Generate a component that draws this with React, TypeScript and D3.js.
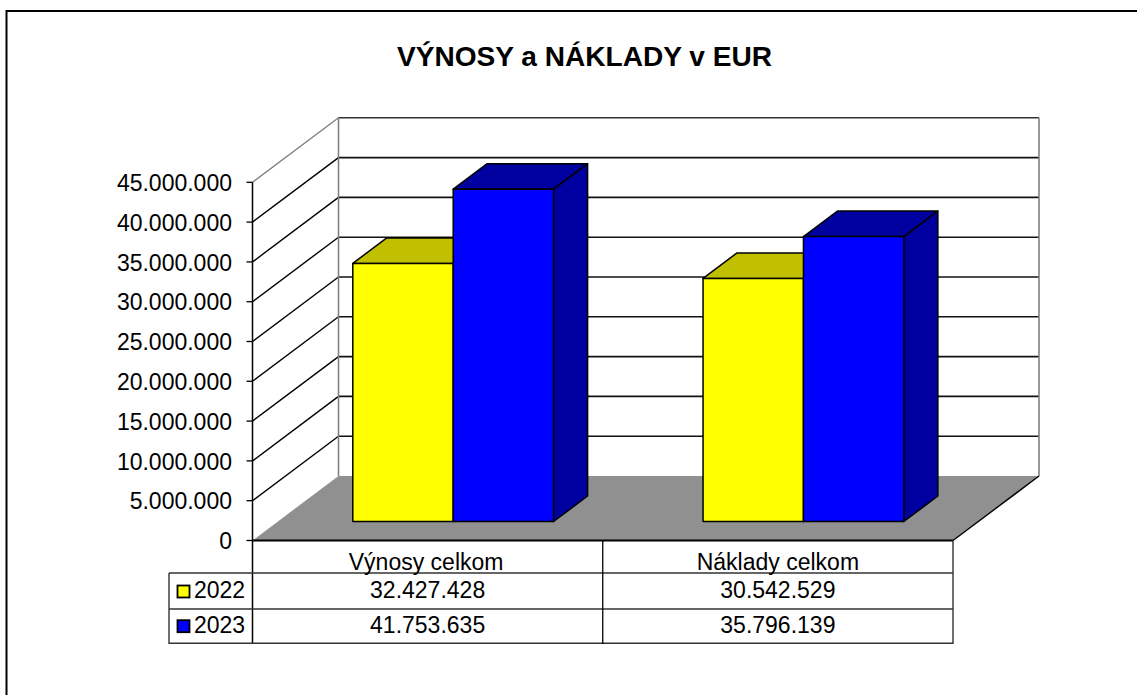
import React from "react";
import * as d3 from "d3";

const title = "VÝNOSY a NÁKLADY v EUR";
const categories = ["Výnosy celkom", "Náklady celkom"];
const seriesNames = ["2022", "2023"];
const values2022 = [32427428, 30542529];
const values2023 = [41753635, 35796139];
const tickValues = [0, 5000000, 10000000, 15000000, 20000000, 25000000, 30000000, 35000000, 40000000, 45000000];
const tableRows = [
  { name: seriesNames[0], values: ["32.427.428", "30.542.529"], fill: "#ffff00", side: "#c0c000" },
  { name: seriesNames[1], values: ["41.753.635", "35.796.139"], fill: "#0000ff", side: "#0000a0" },
];

const FONT = "'Liberation Sans', Arial, sans-serif";
const fmt = (v: number) => String(v).replace(/\B(?=(\d{3})+(?!\d))/g, ".");

const x0 = 252.5, xEnd = 953, yBase = 540.5, yTop = 182.3;
const DX = 86, DY = -64.5;
const y = d3.scaleLinear().domain([0, 45000000]).range([yBase, yTop]);
const xBand = d3.scaleBand<string>().domain(categories).range([x0, xEnd]);
const barW = 100.4;
const barDX = 34, barDY = -25.5;
const barBaseY = 521.5;
const barInsetX = 100.3;

const P = (pts: [number, number][]) => pts.map((p) => p.join(",")).join(" ");

export default function App() {
  const series = [
    { vals: values2022, row: tableRows[0], idx: 0 },
    { vals: values2023, row: tableRows[1], idx: 1 },
  ];
  const catW = xBand.bandwidth();
  const h = y(0) - barBaseY;
  const tableFont = 23;
  return (
    <svg width={1137} height={695} style={{ position: "absolute", left: 0, top: 0, background: "#fff" }} fontFamily={FONT}>
      <path d="M6.5,695 V11 H1137" fill="none" stroke="#000" strokeWidth={2} />
      <text x={584.5} y={66} textAnchor="middle" fontSize={28} fontWeight="bold" fill="#000" textLength={375} lengthAdjust="spacingAndGlyphs">{title}</text>

      {/* back wall */}
      {tickValues.slice(1).map((t, i) => (
        <g key={t}>
          <line x1={x0} y1={y(t)} x2={x0 + DX} y2={y(t) + DY} stroke={i === tickValues.length - 2 ? "#808080" : "#000"} strokeWidth={1.4} />
          <line x1={x0 + DX} y1={y(t) + DY} x2={xEnd + DX} y2={y(t) + DY} stroke={i === tickValues.length - 2 ? "#333" : "#111"} strokeWidth={1.6} />
        </g>
      ))}
      <line x1={x0 + DX} y1={yTop + DY} x2={x0 + DX} y2={yBase + DY} stroke="#808080" strokeWidth={1.6} />
      <line x1={xEnd + DX} y1={yTop + DY} x2={xEnd + DX} y2={yBase + DY} stroke="#808080" strokeWidth={1.6} />
      {/* floor */}
      <polygon points={P([[x0, yBase], [x0 + DX, yBase + DY], [xEnd + DX, yBase + DY], [xEnd, yBase]])} fill="#909090" />
      <line x1={xEnd} y1={yBase} x2={xEnd + DX} y2={yBase + DY} stroke="#000" strokeWidth={1.4} />

      {/* bars */}
      {categories.map((c) =>
        series.map((s) => {
          const ci = categories.indexOf(c);
          const left = xBand(c)! + barInsetX + s.idx * barW;
          const right = left + barW;
          const top = y(s.vals[ci]) - h;
          return (
            <g key={c + s.idx} stroke="#000" strokeWidth={1.5} strokeLinejoin="round">
              <polygon points={P([[left, top], [left + barDX, top + barDY], [right + barDX, top + barDY], [right, top]])} fill={s.row.side} />
              <polygon points={P([[right, top], [right + barDX, top + barDY], [right + barDX, barBaseY + barDY], [right, barBaseY]])} fill={s.row.side} />
              <rect x={left} y={top} width={barW} height={barBaseY - top} fill={s.row.fill} />
            </g>
          );
        })
      )}

      {/* axis */}
      <line x1={x0} y1={yTop} x2={x0} y2={643.5} stroke="#000" strokeWidth={1.5} />
      <g fontSize={tableFont} fill="#000">
        {tickValues.map((t) => (
          <g key={t}>
            <line x1={x0 - 6} x2={x0} y1={y(t)} y2={y(t)} stroke="#000" strokeWidth={1.3} />
            <text x={232} y={y(t) + 8.7} textAnchor="end">{fmt(t)}</text>
          </g>
        ))}
      </g>

      {/* data table */}
      <g fontSize={tableFont} fill="#000">
        <line x1={x0} x2={xEnd} y1={yBase} y2={yBase} stroke="#000" strokeWidth={1.8} />
        <line x1={169} x2={xEnd} y1={573} y2={573} stroke="#333" strokeWidth={1.4} />
        <line x1={169} x2={xEnd} y1={609} y2={609} stroke="#333" strokeWidth={1.4} />
        <line x1={169} x2={xEnd} y1={643.3} y2={643.3} stroke="#333" strokeWidth={1.4} />
        <line x1={169} x2={169} y1={573} y2={644} stroke="#333" strokeWidth={1.4} />
        <line x1={xBand(categories[1])!} x2={xBand(categories[1])!} y1={yBase} y2={644} stroke="#000" strokeWidth={1.3} />
        <line x1={xEnd} x2={xEnd} y1={yBase} y2={644} stroke="#333" strokeWidth={1.4} />
        {categories.map((c, i) => (
          <text key={c} x={xBand(c)! + catW / 2 - (i === 0 ? 1.5 : 0)} y={569.5} textAnchor="middle">{c}</text>
        ))}
        {tableRows.map((r, i) => {
          const ty = 598 + i * 34.7;
          return (
            <g key={r.name}>
              <rect x={177.5} y={ty - 12.5} width={12} height={12} fill={r.fill} stroke="#000" strokeWidth={1.8} />
              <text x={194} y={ty}>{r.name}</text>
              {r.values.map((v, j) => (
                <text key={j} x={xBand(categories[j])! + catW / 2} y={ty} textAnchor="middle">{v}</text>
              ))}
            </g>
          );
        })}
      </g>
    </svg>
  );
}
